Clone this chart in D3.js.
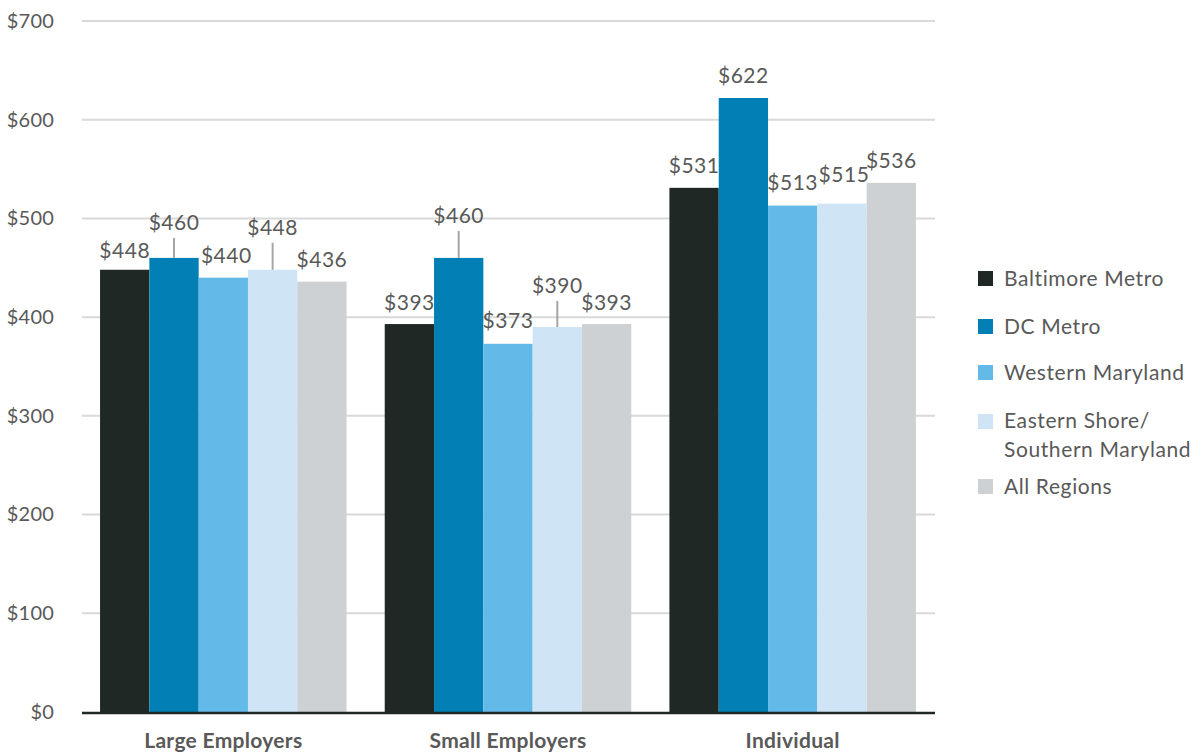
<!DOCTYPE html>
<html>
<head>
<meta charset="utf-8">
<script src="https://cdn.jsdelivr.net/npm/d3@7"></script>
<style>
  html, body { margin: 0; padding: 0; background: #fff; }
  svg { display: block; }
  text { font-family: Lato, "Open Sans", "Liberation Sans", sans-serif; }
</style>
</head>
<body>
<svg id="chart" width="1201" height="753"></svg>
<script>
// Average monthly premium by market segment and region
const categories = ["Large Employers", "Small Employers", "Individual"];
const regions = ["Baltimore Metro", "DC Metro", "Western Maryland", "Eastern Shore/ Southern Maryland", "All Regions"];
const baltimoreMetro = [448, 393, 531];
const dcMetro = [460, 460, 622];
const westernMaryland = [440, 373, 513];
const easternShoreSouthern = [448, 390, 515];
const allRegions = [436, 393, 536];
const yTicks = [0, 100, 200, 300, 400, 500, 600, 700];

const seriesValues = [baltimoreMetro, dcMetro, westernMaryland, easternShoreSouthern, allRegions];
const colors = ["#202826", "#0280b5", "#63bae8", "#cfe5f5", "#cdd1d4"];

// Label placement: distance of the label baseline above the bar top,
// with a leader line where the label is lifted clear of its neighbours.
const labelLift = [
  [12, 28, 15, 35, 15],
  [14, 35, 16, 34, 14],
  [15, 15, 16, 22, 15]
];
const labelLeader = [
  [false, true, false, true, false],
  [false, true, false, true, false],
  [false, false, false, false, false]
];
const labelShift = [
  [0, 0, 3, 0, 0],
  [0, 0, 0, 0, 0],
  [0, 0, 0, 2, 0]
];

const svg = d3.select("#chart");
const textColor = "#595959";

const x0 = d3.scaleBand()
  .domain(categories)
  .range([82, 934])
  .paddingInner(0.134)
  .paddingOuter(0.0634);

const x1 = d3.scaleBand()
  .domain(regions)
  .range([0, x0.bandwidth()]);

const y = d3.scaleLinear()
  .domain([0, 700])
  .range([712, 21]);

// Gridlines
svg.append("g")
  .selectAll("line")
  .data(yTicks.filter(d => d > 0))
  .join("line")
  .attr("x1", 82)
  .attr("x2", 935)
  .attr("y1", d => y(d))
  .attr("y2", d => y(d))
  .attr("stroke", "#d9d9d9")
  .attr("stroke-width", 2);

// Y axis labels
const yAxis = d3.axisLeft(y)
  .tickValues(yTicks)
  .tickSize(0)
  .tickPadding(0)
  .tickFormat(d => "$" + d);

svg.append("g")
  .attr("transform", "translate(54,0)")
  .call(yAxis)
  .call(g => g.select(".domain").remove())
  .call(g => g.selectAll("text")
    .attr("font-size", 20)
    .attr("fill", textColor)
    .attr("letter-spacing", 0.2)
    .attr("font-family", "Lato, 'Open Sans', sans-serif"));

// Bars
const groups = svg.append("g")
  .selectAll("g")
  .data(categories)
  .join("g")
  .attr("transform", d => `translate(${x0(d)},0)`);

const cells = (c, ci) => regions.map((r, si) => ({ region: r, value: seriesValues[si][ci], ci, si }));

groups.selectAll("rect")
  .data(cells)
  .join("rect")
  .attr("x", d => x1(d.region))
  .attr("width", x1.bandwidth())
  .attr("y", d => y(d.value))
  .attr("height", d => y(0) - y(d.value))
  .attr("fill", d => colors[d.si]);

// Leader lines
groups.selectAll("line.leader")
  .data((c, ci) => cells(c, ci).filter(d => labelLeader[d.ci][d.si]))
  .join("line")
  .attr("class", "leader")
  .attr("x1", d => x1(d.region) + x1.bandwidth() / 2)
  .attr("x2", d => x1(d.region) + x1.bandwidth() / 2)
  .attr("y1", d => y(d.value) - labelLift[d.ci][d.si] + 8)
  .attr("y2", d => y(d.value))
  .attr("stroke", "#a6a6a6")
  .attr("stroke-width", 2);

// Value labels
groups.selectAll("text.value")
  .data(cells)
  .join("text")
  .attr("class", "value")
  .attr("x", d => x1(d.region) + x1.bandwidth() / 2 + labelShift[d.ci][d.si])
  .attr("y", d => y(d.value) - labelLift[d.ci][d.si])
  .attr("text-anchor", "middle")
  .attr("font-size", 21)
  .attr("letter-spacing", 0.5)
  .attr("fill", textColor)
  .text(d => "$" + d.value);

// Baseline axis
svg.append("line")
  .attr("x1", 82)
  .attr("x2", 935)
  .attr("y1", y(0) + 1)
  .attr("y2", y(0) + 1)
  .attr("stroke", "#1f2626")
  .attr("stroke-width", 2.5);

// Category labels
const xAxis = d3.axisBottom(x0).tickSize(0).tickPadding(0);
svg.append("g")
  .attr("transform", `translate(0,${y(0)})`)
  .call(xAxis)
  .call(g => g.select(".domain").remove())
  .call(g => g.selectAll("text")
    .attr("dy", null)
    .attr("y", 36)
    .attr("font-size", 21)
    .attr("font-weight", "bold")
    .attr("letter-spacing", 0.3)
    .attr("fill", textColor)
    .attr("font-family", "Lato, 'Open Sans', sans-serif"));

// Legend
const legendTops = [271, 319, 365, 414, 479];
const legend = svg.append("g")
  .selectAll("g")
  .data(regions)
  .join("g")
  .attr("transform", (d, i) => `translate(978,${legendTops[i]})`);

legend.append("rect")
  .attr("width", 15)
  .attr("height", 15)
  .attr("fill", (d, i) => colors[i]);

legend.append("text")
  .attr("x", 26)
  .attr("y", 15)
  .attr("font-size", 21)
  .attr("letter-spacing", 0.6)
  .attr("fill", textColor)
  .each(function (d) {
    const parts = d.split(" Southern");
    const t = d3.select(this);
    if (parts.length > 1) {
      t.append("tspan").attr("x", 26).attr("y", 14).text(parts[0]);
      t.append("tspan").attr("x", 26).attr("y", 43).text("Southern" + parts[1]);
    } else {
      t.text(d);
    }
  });
</script>
</body>
</html>
